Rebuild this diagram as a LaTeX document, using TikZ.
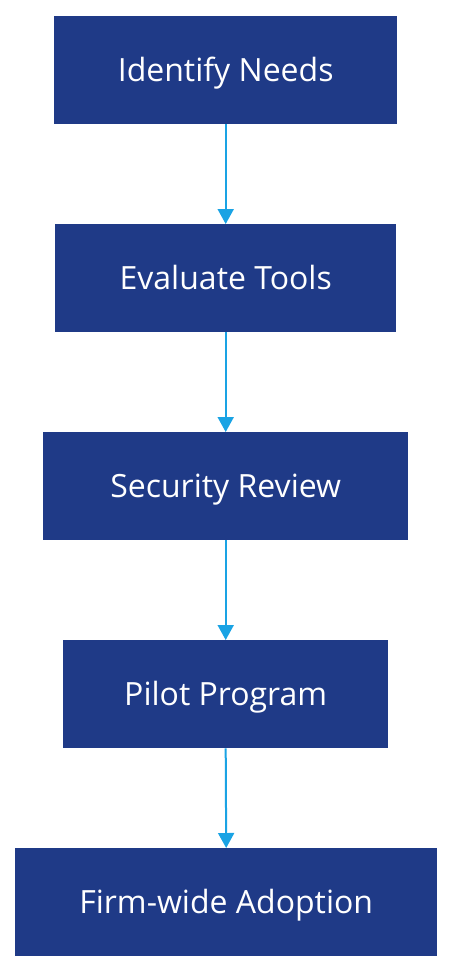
\documentclass[tikz,border=0pt]{standalone}
\usepackage{fontspec}
\setmainfont{Open Sans}
\usetikzlibrary{arrows.meta}
\definecolor{boxblue}{RGB}{31,58,135}
\definecolor{arrowblue}{RGB}{26,163,228}
\tikzset{
  stepbox/.style={fill=boxblue, draw=none, text=white, anchor=north west, inner sep=0pt, text height=22.8pt, text depth=0pt, font=\fontsize{32}{38}\selectfont},
  flow/.style={draw=arrowblue, line width=2pt, -{Triangle[width=16pt,length=15pt]}}
}
\begin{document}
\begin{tikzpicture}[x=1pt,y=-1pt]
\useasboundingbox (0,0) rectangle (452,972);
\node[stepbox, minimum width=343pt, minimum height=108pt] (a) at (54,16) {Identify Needs};
\node[stepbox, minimum width=341pt, minimum height=108pt] (b) at (55,224) {Evaluate Tools};
\node[stepbox, minimum width=365pt, minimum height=108pt] (c) at (43,432) {Security Review};
\node[stepbox, minimum width=325pt, minimum height=108pt] (d) at (63,640) {Pilot Program};
\node[stepbox, minimum width=422pt, minimum height=108pt] (e) at (15,848) {Firm-wide Adoption};
\draw[flow] (a.south) -- (b.north);
\draw[flow] (b.south) -- (c.north);
\draw[flow] (c.south) -- (d.north);
\draw[flow] (d.south) -- (e.north);
\end{tikzpicture}
\end{document}
